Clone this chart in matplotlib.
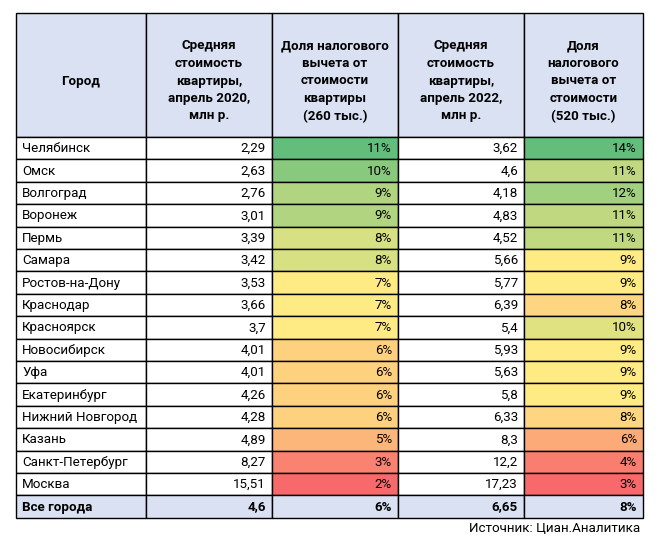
import matplotlib
matplotlib.use("Agg")
import matplotlib.pyplot as plt
from matplotlib.patches import Rectangle
from matplotlib.colors import LinearSegmentedColormap, TwoSlopeNorm
import numpy as np

plt.rcParams['font.family'] = ['Roboto', 'DejaVu Sans']

cities = ["Челябинск", "Омск", "Волгоград", "Воронеж", "Пермь", "Самара",
          "Ростов-на-Дону", "Краснодар", "Красноярск", "Новосибирск", "Уфа",
          "Екатеринбург", "Нижний Новгород", "Казань", "Санкт-Петербург", "Москва"]
price_2020 = ["2,29", "2,63", "2,76", "3,01", "3,39", "3,42", "3,53", "3,66", "3,7",
              "4,01", "4,01", "4,26", "4,28", "4,89", "8,27", "15,51"]
share_2020 = [11, 10, 9, 9, 8, 8, 7, 7, 7, 6, 6, 6, 6, 5, 3, 2]
price_2022 = ["3,62", "4,6", "4,18", "4,83", "4,52", "5,66", "5,77", "6,39", "5,4",
              "5,93", "5,63", "5,8", "6,33", "8,3", "12,2", "17,23"]
share_2022 = [14, 11, 12, 11, 11, 9, 9, 8, 10, 9, 9, 9, 8, 6, 4, 3]
total_row = ["Все города", "4,6", "6%", "6,65", "8%"]
headers = ["Город",
           "Средняя\nстоимость\nквартиры,\nапрель 2020,\nмлн р.",
           "Доля налогового\nвычета от\nстоимости\nквартиры\n(260 тыс.)",
           "Средняя\nстоимость\nквартиры,\nапрель 2022,\nмлн р.",
           "Доля\nналогового\nвычета от\nстоимости\n(520 тыс.)"]
source = "Источник: Циан.Аналитика"

W, H = 661, 541
fig = plt.figure(figsize=(W / 100, H / 100), dpi=100)
ax = fig.add_axes([0, 0, 1, 1])
ax.set_xlim(0, W)
ax.set_ylim(H, 0)
ax.axis('off')

col_x = [16, 146, 272, 398, 524, 643]
top, head_bot = 13, 137
n_rows = len(cities) + 1
row_h = 22.4
fs = 9.6

cmap = LinearSegmentedColormap.from_list("excel", ["#F8696B", "#FFEB84", "#63BE7B"])
header_fill = "#D9E1F2"

# header
for j, h in enumerate(headers):
    ax.add_patch(Rectangle((col_x[j], top), col_x[j + 1] - col_x[j], head_bot - top,
                           facecolor=header_fill, edgecolor='black', lw=1))
    ax.text((col_x[j] + col_x[j + 1]) / 2, 81, h, ha='center', va='center',
            fontsize=fs, fontweight='bold', linespacing=1.45)

norm1 = TwoSlopeNorm(vmin=min(share_2020), vcenter=np.median(share_2020), vmax=max(share_2020))
norm2 = TwoSlopeNorm(vmin=min(share_2022), vcenter=np.median(share_2022), vmax=max(share_2022))

for i in range(n_rows):
    y0 = head_bot + i * row_h
    yc = y0 + row_h / 2 + 0.5
    if i < len(cities):
        vals = [cities[i], price_2020[i], f"{share_2020[i]}%", price_2022[i], f"{share_2022[i]}%"]
        fills = ["white", "white", cmap(norm1(share_2020[i])), "white", cmap(norm2(share_2022[i]))]
        weight = 'normal'
    else:
        vals = total_row
        fills = [header_fill] * 5
        weight = 'bold'
    for j in range(5):
        ax.add_patch(Rectangle((col_x[j], y0), col_x[j + 1] - col_x[j], row_h,
                               facecolor=fills[j], edgecolor='black', lw=1))
        if j == 0:
            ax.text(col_x[j] + 6, yc, vals[j], ha='left', va='center', fontsize=fs, fontweight=weight)
        else:
            ax.text(col_x[j + 1] - 6, yc, vals[j], ha='right', va='center', fontsize=fs, fontweight=weight)

ax.text(640, 528, source, ha='right', va='center', fontsize=fs)

fig.savefig("out.png", dpi=100)
